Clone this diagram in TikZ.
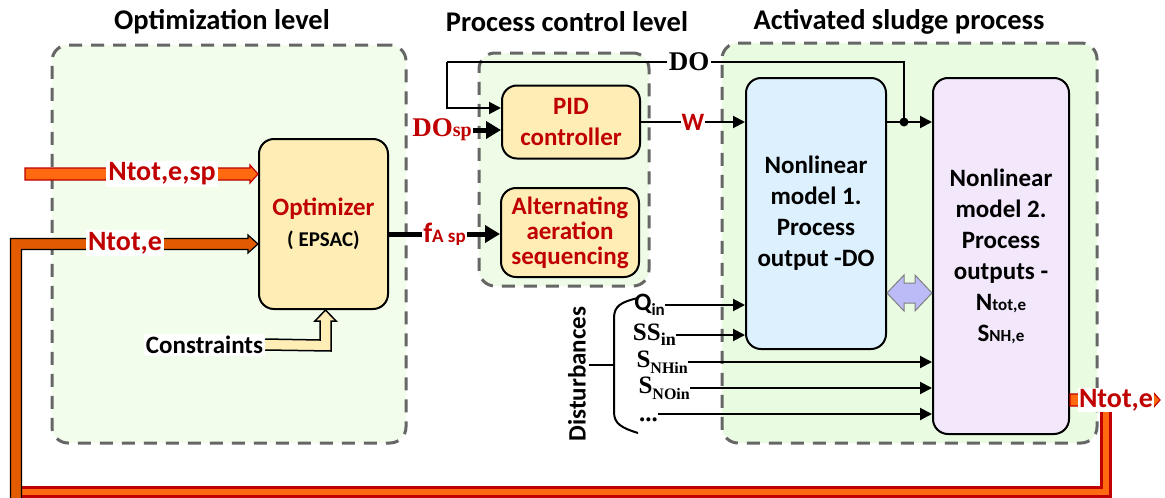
\documentclass[tikz,border=0pt]{standalone}
\usepackage{fontspec}
\setmainfont{Carlito}
\newfontfamily\serifb{Liberation Serif}
\usetikzlibrary{arrows.meta,calc}
\definecolor{dred}{HTML}{C00000}
\definecolor{org}{HTML}{FF6A10}
\definecolor{dorg}{HTML}{E35B00}
\definecolor{gfillA}{HTML}{F2FDEB}
\definecolor{gfillB}{HTML}{EEFBE6}
\definecolor{gfillC}{HTML}{E9FBE1}
\definecolor{dashgray}{HTML}{666666}
\definecolor{ybox}{HTML}{FEEEB6}
\definecolor{bbox}{HTML}{DDF0FD}
\definecolor{pbox}{HTML}{F2E7FB}
\definecolor{dblarr}{HTML}{BBBBF8}
\newcommand\fsz[2]{\fontsize{#1}{#2}\selectfont}
% block arrow: start, tip, half shaft, head length, half head, fill, draw
\newcommand\blockarr[7]{\filldraw[fill=#6,draw=#7,line width=1.2pt,line join=miter]
  ($(#1)+(0,-#3)$) -- ($(#2)+(-#4,-#3)$) -- ($(#2)+(-#4,-#5)$) -- (#2) --
  ($(#2)+(-#4,#5)$) -- ($(#2)+(-#4,#3)$) -- ($(#1)+(0,#3)$) -- cycle;}
\begin{document}
\begin{tikzpicture}[x=1pt,y=-1pt,
  levelbox/.style={draw=dashgray,line width=3pt,dash pattern=on 13pt off 9pt,rounded corners=16pt,inner sep=0pt},
  blockbox/.style={draw=black,line width=2pt,rounded corners=15pt,inner sep=0pt,align=center,font=\bfseries\fsz{25}{31}},
  titletext/.style={font=\bfseries\fsz{28.5}{30}},
  lbl/.style={fill=white,inner sep=2pt,font=\bfseries\fsz{28}{28},text=dred},
  thinarr/.style={line width=2pt,-{Triangle[length=12pt,width=12pt]}},
  thickarr/.style={line width=5pt,-{Triangle[length=15pt,width=17pt]}},
  inlbl/.style={anchor=east,inner sep=0pt}
]
\useasboundingbox (0,0) rectangle (1165,498);
\fill[white] (0,0) rectangle (1165,498);

% level regions
\node[levelbox,fill=gfillA,minimum width=354pt,minimum height=398pt] (optlev) at (229,244) {};
\node[levelbox,fill=gfillB,minimum width=170pt,minimum height=233pt] (pclev) at (564,169.5) {};
\node[levelbox,fill=gfillC,minimum width=375pt,minimum height=400pt] (aslev) at (909.5,243) {};

\node[titletext] (t1) at (222,22) {Optimization level};
\node[titletext] (t2) at (567,22) {Process control level};
\node[titletext] (t3) at (899,22) {Activated sludge process};

% blocks
\node[blockbox,fill=ybox,minimum width=129pt,minimum height=170pt] (opt) at (323.5,224)
  {\textcolor{dred}{Optimizer}\\{\fsz{21}{24}( EPSAC)}};
\node[blockbox,fill=ybox,text=dred,minimum width=138pt,minimum height=73pt] (pid) at (571,122)
  {PID\\controller};
\node[blockbox,fill=ybox,text=dred,minimum width=138pt,minimum height=89pt,font=\bfseries\fsz{25}{25}] (alt) at (570,232.5)
  {Alternating\\aeration\\sequencing};
\node[blockbox,fill=bbox,minimum width=140pt,minimum height=271pt] (m1) at (816,213.5)
  {Nonlinear\\model 1.\\Process\\output -DO};
\node[blockbox,fill=pbox,minimum width=136pt,minimum height=356pt] (m2) at (1001,256)
  {Nonlinear\\model 2.\\Process\\outputs -\\N{\fsz{17}{17}tot,e}\\S{\fsz{17}{17}NH,e}};

% DO feedback and PID
\coordinate (dob) at (447,62);
\coordinate (j) at (904,122);
\coordinate (doc) at (j |- dob);
\draw[line width=2pt] (dob) -- node[pos=0.53,fill=white,inner sep=2pt,font=\serifb\bfseries\fsz{27}{27}] (dol) {DO} (doc) -- (j);
\draw[thinarr] (dob) |- ($(pid.west)+(0,-14)$);
\draw[thinarr] (pid.east) -- node[lbl,inner sep=1pt,font=\bfseries\fsz{25}{25}] (w) {W} (pid.east -| m1.west);
\draw[thinarr] (j -| m1.east) -- (j -| m2.west);
\fill (j) circle (4.5pt);

\node[inner sep=1pt,text=dred] (dosp) at (442,130)
  {{\serifb\bfseries\fsz{27}{27}DO}{\serifb\bfseries\fsz{20}{20}sp}};
\draw[thickarr] (dosp.east) -- (dosp.east -| pid.west);

\coordinate (fa) at (opt.east |- 0,234);
\draw[thickarr] (fa) -- node[lbl,inner sep=1pt] (fasp) {f{\fsz{19}{19}A sp}} (fa -| alt.west);

% inputs to optimizer
\coordinate (nsps) at (25,174);
\coordinate (nspt) at (opt.west |- nsps);
\blockarr{nsps}{nspt}{6}{8}{9}{org}{dred}
\node[lbl] (nsp) at (162,174) {Ntot,e,sp};

% constraints
\coordinate (ct) at ($(opt.south)+(2,0)$);
\node[fill=white,inner sep=2pt,font=\bfseries\fsz{25}{25}] (cons) at (204.5,345) {Constraints};
\filldraw[fill=ybox,draw=black,line width=1.5pt,line join=miter]
  (cons.east |- 0,339) -- ($(ct)+(-5.5,30)$) -- ($(ct)+(-5.5,11)$) -- ($(ct)+(-10.5,11)$) -- (ct)
  -- ($(ct)+(10.5,11)$) -- ($(ct)+(5.5,11)$) -- ($(ct)+(5.5,41)$) -- (cons.east |- 0,350);

% output and feedback
\coordinate (ntrtip) at (1160,400);
\coordinate (ntrs) at (m2.east |- ntrtip);
\blockarr{ntrs}{ntrtip}{6}{7}{8}{org}{dred}
\coordinate (fb1) at (1106,405);
\coordinate (fb2) at (1106,492);
\coordinate (fb3) at (21.5,492);
\draw[line width=12pt,dred,line join=miter] (fb1) -- (fb2) -- (fb3);
\draw[line width=6pt,org,line join=miter] (fb1) -- (fb2) -- (fb3);
\node[lbl,inner sep=1pt] (ntr) at (1116,400) {Ntot,e};
\coordinate (ntt) at (opt.west |- 0,244);
\filldraw[fill=dorg,draw=black,line width=1.2pt,line join=miter]
  (10.5,498) -- (10.5,238.5) -- ($(ntt)+(-10,-5.5)$) -- ($(ntt)+(-10,-9)$) -- (ntt)
  -- ($(ntt)+(-10,9)$) -- ($(ntt)+(-10,5.5)$) -- (21.5,249.5) -- (21.5,498);
\node[lbl] (ntl) at (125,243) {Ntot,e};

% double arrow between models
\coordinate (dl) at (m1.east |- 0,293);
\coordinate (dr) at (m2.west |- 0,293);
\filldraw[fill=dblarr,draw=gray,line width=1pt,line join=miter]
  (dl) -- ($(dl)+(17,-18)$) -- ($(dl)+(17,-10)$) -- ($(dr)+(-17,-10)$) -- ($(dr)+(-17,-18)$) -- (dr)
  -- ($(dr)+(-17,18)$) -- ($(dr)+(-17,10)$) -- ($(dl)+(17,10)$) -- ($(dl)+(17,18)$) -- cycle;

% disturbances
\node[rotate=90,font=\bfseries\fsz{25}{25}] (dist) at (577,374) {Disturbances};
\draw[line width=2pt] (638,298) .. controls (621,302) and (614,306) .. (614,318) -- (614,412)
  .. controls (614,424) and (622,428) .. (638,433);
\draw[line width=2pt] (614,365) -- (dist.south |- 0,365);

\node[inlbl,font=\bfseries\fsz{25}{25}] (qin) at (665,305) {Q\raisebox{-5pt}{\fsz{17}{17}in}};
\draw[thinarr] (qin.east) -- (qin.east -| m1.west);
\node[inlbl,font=\serifb\bfseries\fsz{25}{25}] (ssin) at (676,335) {SS\raisebox{-5pt}{\fsz{18}{18}in}};
\draw[thinarr] (ssin.east) -- (ssin.east -| m1.west);
\node[inlbl,font=\serifb\bfseries\fsz{25}{25}] (snh) at (688,362) {S\raisebox{-6pt}{\fsz{16}{16}NHin}};
\draw[thinarr] (snh.east) -- (snh.east -| m2.west);
\node[inlbl,font=\serifb\bfseries\fsz{25}{25}] (sno) at (690,388) {S\raisebox{-6pt}{\fsz{16}{16}NOin}};
\draw[thinarr] (sno.east) -- (sno.east -| m2.west);
\node[inlbl,font=\serifb\bfseries\fsz{25}{25},text height=14pt,text depth=0pt] (dots) at (658,414) {...};
\draw[thinarr] (dots.east) -- (dots.east -| m2.west);
\end{tikzpicture}
\end{document}
